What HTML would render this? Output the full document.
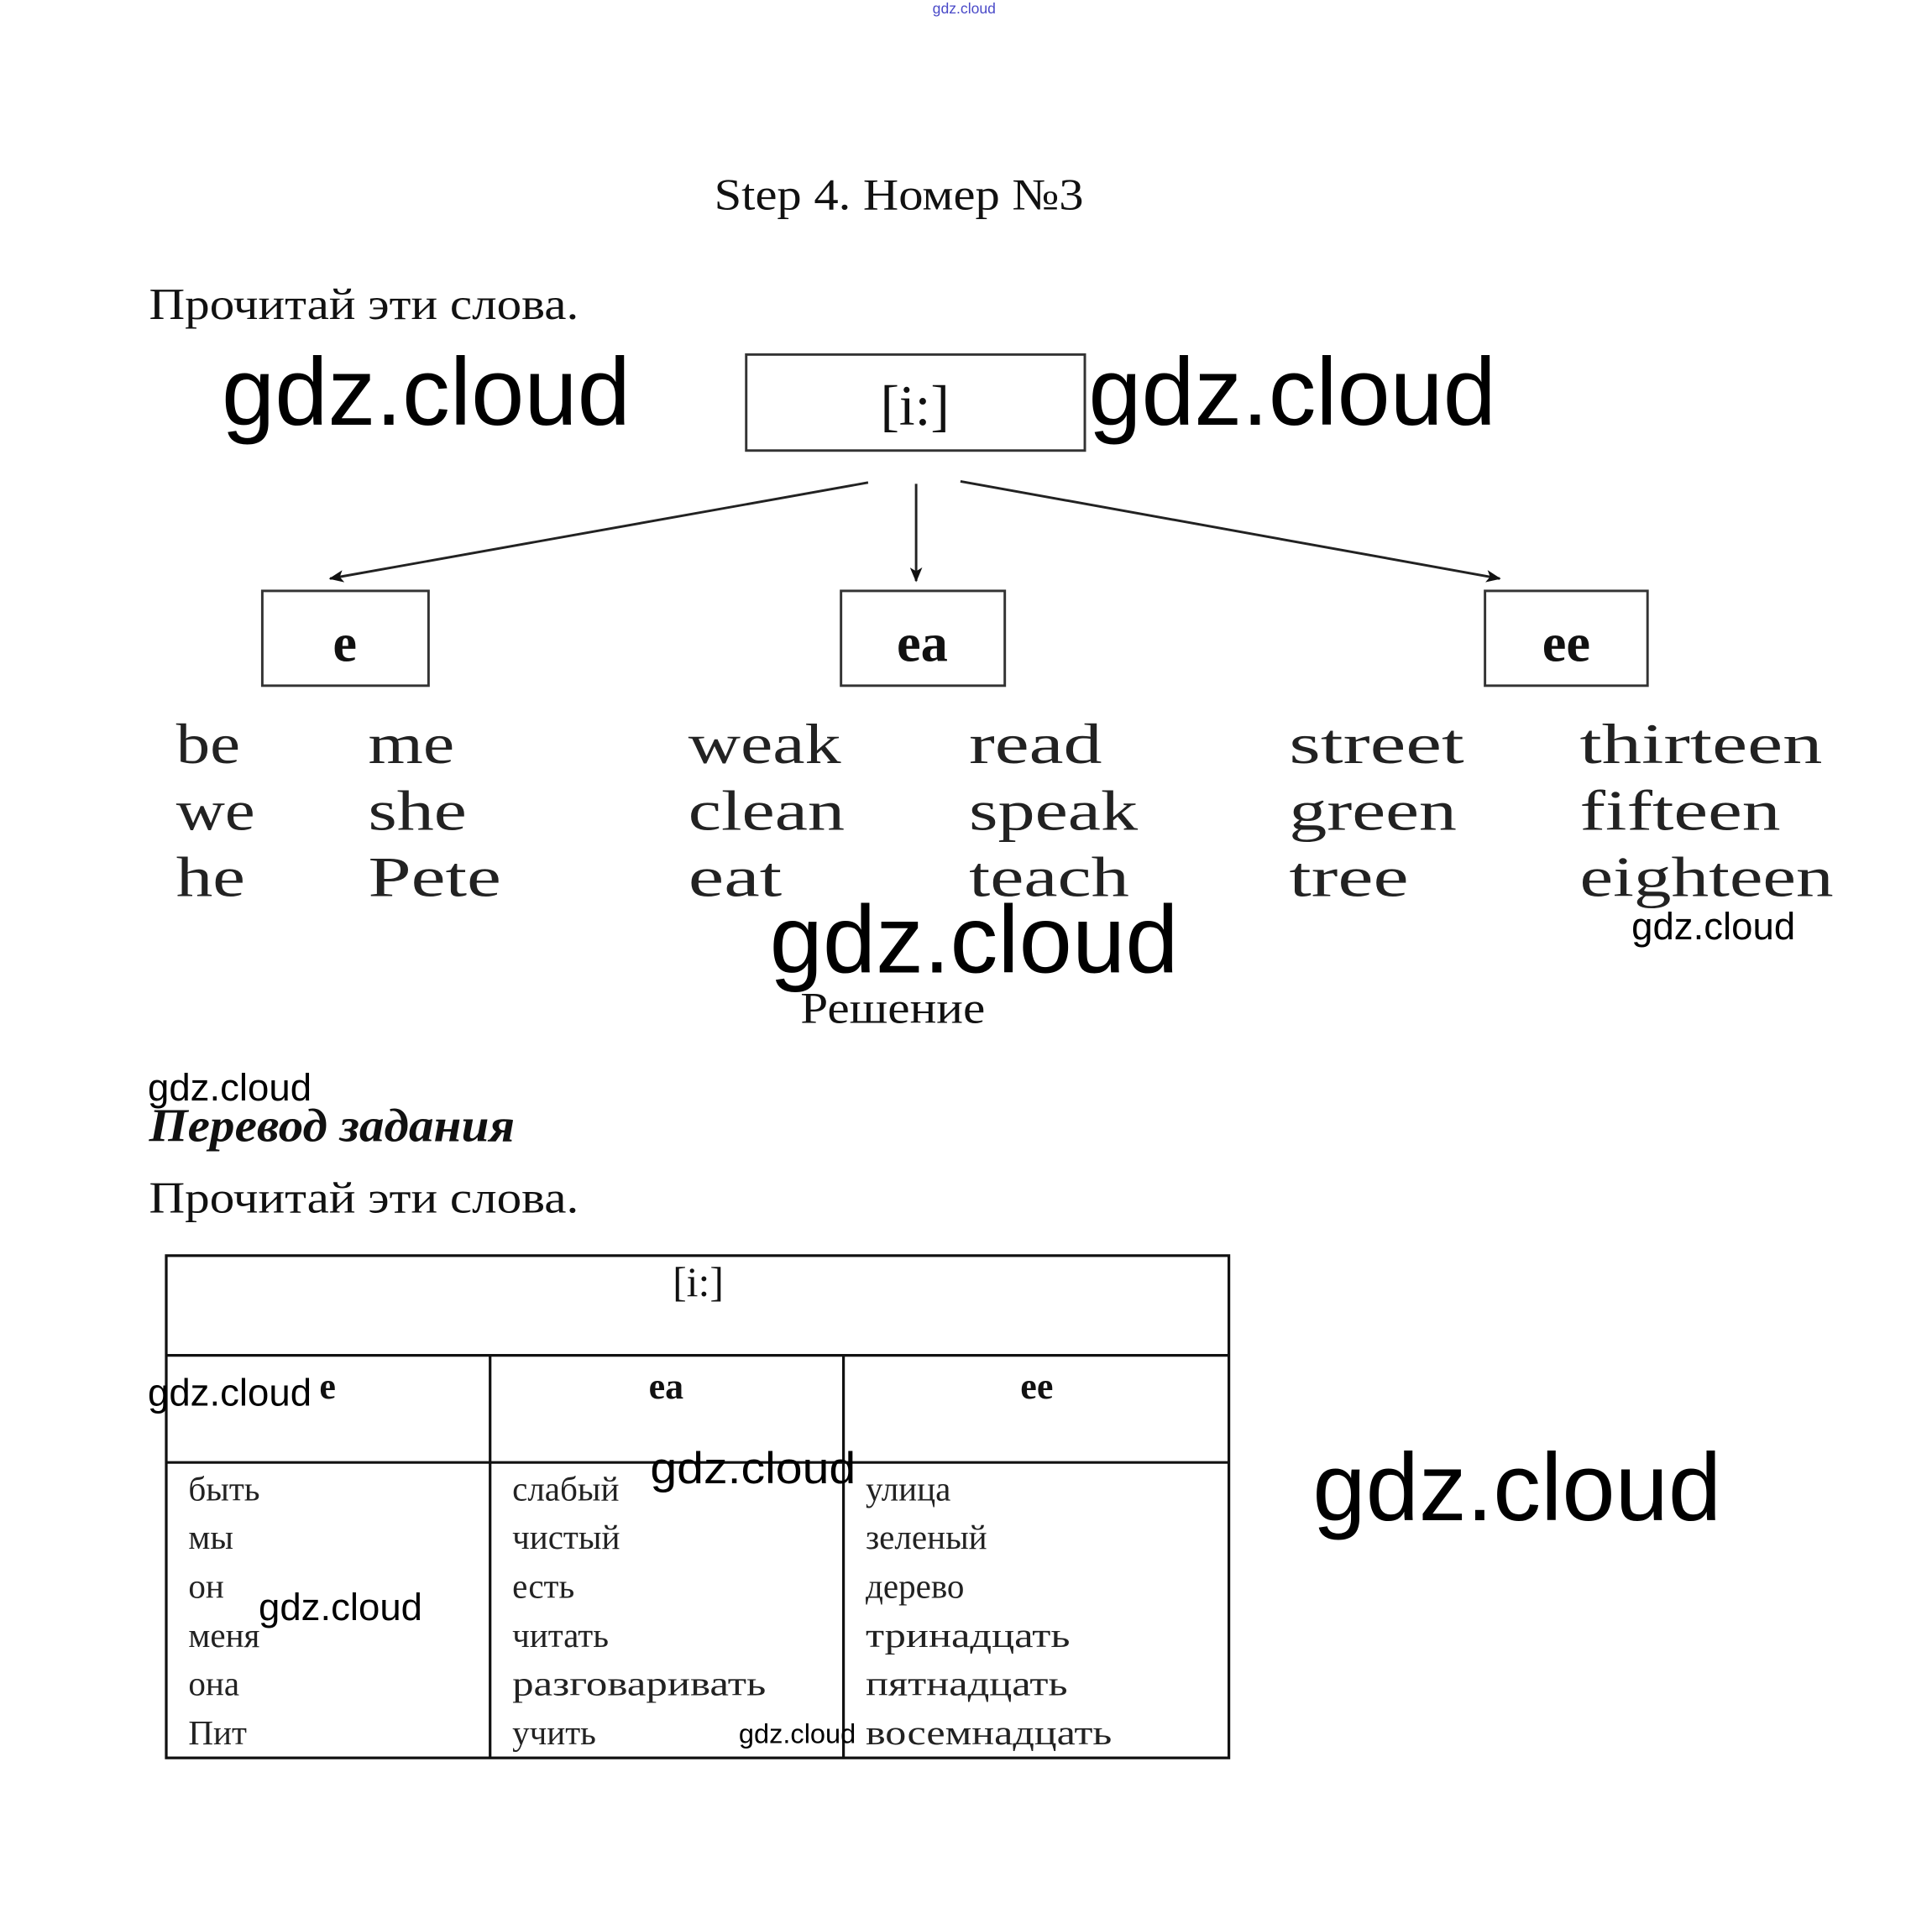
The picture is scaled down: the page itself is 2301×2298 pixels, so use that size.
<!DOCTYPE html>
<html><head><meta charset="utf-8"><style>
html,body{margin:0;padding:0;background:#fff;}
svg{display:block;}
.s{font-family:"Liberation Serif",serif;fill:#111;}
.g{font-family:"Liberation Sans",sans-serif;fill:#000;}
.w{font-family:"Liberation Serif",serif;fill:#222;font-size:46px;}
.r{font-family:"Liberation Serif",serif;fill:#222;font-size:28px;}
</style></head><body>
<svg width="2301" height="2298" viewBox="0 0 1569 1567" xmlns="http://www.w3.org/2000/svg">
<defs><marker id="a" markerWidth="12" markerHeight="10" refX="11" refY="5" orient="auto" markerUnits="userSpaceOnUse"><path d="M0,0 L12,5 L0,10 L3,5 Z" fill="#111"/></marker></defs>
<g lengthAdjust="spacingAndGlyphs">
<text x="783" y="11" class="g" font-size="12" style="fill:#4a4ac8" text-anchor="middle">gdz.cloud</text>
<text x="580" y="170" class="s" font-size="36" textLength="300" lengthAdjust="spacingAndGlyphs">Step 4. Номер №3</text>
<text x="121" y="259" class="s" font-size="36" textLength="349" lengthAdjust="spacingAndGlyphs">Прочитай эти слова.</text>
<text x="180" y="345" class="g" font-size="78" textLength="332" lengthAdjust="spacingAndGlyphs">gdz.cloud</text>
<rect x="606" y="288" width="275" height="78" fill="none" stroke="#333" stroke-width="2"/>
<text x="743" y="345" class="s" font-size="46" text-anchor="middle">[i:]</text>
<text x="884" y="345" class="g" font-size="78" textLength="331" lengthAdjust="spacingAndGlyphs">gdz.cloud</text>
<line x1="705" y1="392" x2="268" y2="470" stroke="#222" stroke-width="2" marker-end="url(#a)"/>
<line x1="744" y1="393" x2="744" y2="472" stroke="#222" stroke-width="2" marker-end="url(#a)"/>
<line x1="780" y1="391" x2="1218" y2="470" stroke="#222" stroke-width="2" marker-end="url(#a)"/>
<rect x="213" y="480" width="135" height="77" fill="none" stroke="#333" stroke-width="2"/>
<rect x="683" y="480" width="133" height="77" fill="none" stroke="#333" stroke-width="2"/>
<rect x="1206" y="480" width="132" height="77" fill="none" stroke="#333" stroke-width="2"/>
<text x="280" y="537" class="s" font-size="44" font-weight="bold" text-anchor="middle">e</text>
<text x="749" y="537" class="s" font-size="44" font-weight="bold" text-anchor="middle">ea</text>
<text x="1272" y="537" class="s" font-size="44" font-weight="bold" text-anchor="middle">ee</text>
<text x="143" y="620" class="w" textLength="52" lengthAdjust="spacingAndGlyphs">be</text>
<text x="143" y="674" class="w" textLength="64" lengthAdjust="spacingAndGlyphs">we</text>
<text x="143" y="728" class="w" textLength="56" lengthAdjust="spacingAndGlyphs">he</text>
<text x="299" y="620" class="w" textLength="70" lengthAdjust="spacingAndGlyphs">me</text>
<text x="299" y="674" class="w" textLength="80" lengthAdjust="spacingAndGlyphs">she</text>
<text x="299" y="728" class="w" textLength="108" lengthAdjust="spacingAndGlyphs">Pete</text>
<text x="559" y="620" class="w" textLength="124" lengthAdjust="spacingAndGlyphs">weak</text>
<text x="559" y="674" class="w" textLength="127" lengthAdjust="spacingAndGlyphs">clean</text>
<text x="559" y="728" class="w" textLength="76" lengthAdjust="spacingAndGlyphs">eat</text>
<text x="787" y="620" class="w" textLength="108" lengthAdjust="spacingAndGlyphs">read</text>
<text x="787" y="674" class="w" textLength="137" lengthAdjust="spacingAndGlyphs">speak</text>
<text x="787" y="728" class="w" textLength="130" lengthAdjust="spacingAndGlyphs">teach</text>
<text x="1047" y="620" class="w" textLength="142" lengthAdjust="spacingAndGlyphs">street</text>
<text x="1047" y="674" class="w" textLength="136" lengthAdjust="spacingAndGlyphs">green</text>
<text x="1047" y="728" class="w" textLength="97" lengthAdjust="spacingAndGlyphs">tree</text>
<text x="1283" y="620" class="w" textLength="197" lengthAdjust="spacingAndGlyphs">thirteen</text>
<text x="1283" y="674" class="w" textLength="163" lengthAdjust="spacingAndGlyphs">fifteen</text>
<text x="1283" y="728" class="w" textLength="206" lengthAdjust="spacingAndGlyphs">eighteen</text>
<text x="625" y="790" class="g" font-size="78" textLength="332" lengthAdjust="spacingAndGlyphs">gdz.cloud</text>
<text x="1325" y="763" class="g" font-size="31" textLength="133" lengthAdjust="spacingAndGlyphs">gdz.cloud</text>
<text x="650" y="831" class="s" font-size="36" textLength="150" lengthAdjust="spacingAndGlyphs">Решение</text>
<text x="120" y="894" class="g" font-size="31" textLength="133" lengthAdjust="spacingAndGlyphs">gdz.cloud</text>
<text x="121" y="927" class="s" font-size="38" font-weight="bold" font-style="italic" textLength="297" lengthAdjust="spacingAndGlyphs">Перевод задания</text>
<text x="121" y="985" class="s" font-size="36" textLength="349" lengthAdjust="spacingAndGlyphs">Прочитай эти слова.</text>
<g stroke="#111" stroke-width="2.2" fill="none">
<rect x="135" y="1020" width="863" height="408"/>
<line x1="135" y1="1101" x2="998" y2="1101"/>
<line x1="135" y1="1188" x2="998" y2="1188"/>
<line x1="398" y1="1101" x2="398" y2="1428"/>
<line x1="685" y1="1101" x2="685" y2="1428"/>
</g>
<text x="567" y="1053" class="s" font-size="34" text-anchor="middle">[i:]</text>
<text x="266" y="1136" class="s" font-size="30" font-weight="bold" text-anchor="middle">e</text>
<text x="541" y="1136" class="s" font-size="30" font-weight="bold" text-anchor="middle">ea</text>
<text x="842" y="1136" class="s" font-size="30" font-weight="bold" text-anchor="middle">ee</text>
<text x="153" y="1219" class="r">быть</text><text x="153" y="1258" class="r">мы</text><text x="153" y="1298" class="r">он</text><text x="153" y="1338" class="r">меня</text><text x="153" y="1377" class="r">она</text><text x="153" y="1417" class="r">Пит</text>
<text x="416" y="1219" class="r">слабый</text><text x="416" y="1258" class="r">чистый</text><text x="416" y="1298" class="r">есть</text><text x="416" y="1338" class="r">читать</text><text x="416" y="1377" class="r" textLength="206" lengthAdjust="spacingAndGlyphs">разговаривать</text><text x="416" y="1417" class="r">учить</text>
<text x="703" y="1219" class="r">улица</text><text x="703" y="1258" class="r">зеленый</text><text x="703" y="1298" class="r">дерево</text><text x="703" y="1338" class="r" textLength="166" lengthAdjust="spacingAndGlyphs">тринадцать</text><text x="703" y="1377" class="r" textLength="164" lengthAdjust="spacingAndGlyphs">пятнадцать</text><text x="703" y="1417" class="r" textLength="200" lengthAdjust="spacingAndGlyphs">восемнадцать</text>
<text x="120" y="1142" class="g" font-size="31" textLength="133" lengthAdjust="spacingAndGlyphs">gdz.cloud</text>
<text x="528" y="1205" class="g" font-size="36" textLength="167" lengthAdjust="spacingAndGlyphs">gdz.cloud</text>
<text x="210" y="1316" class="g" font-size="31" textLength="133" lengthAdjust="spacingAndGlyphs">gdz.cloud</text>
<text x="600" y="1416" class="g" font-size="22" textLength="95" lengthAdjust="spacingAndGlyphs">gdz.cloud</text>
<text x="1066" y="1235" class="g" font-size="78" textLength="332" lengthAdjust="spacingAndGlyphs">gdz.cloud</text>
</g>
</svg>
</body></html>
